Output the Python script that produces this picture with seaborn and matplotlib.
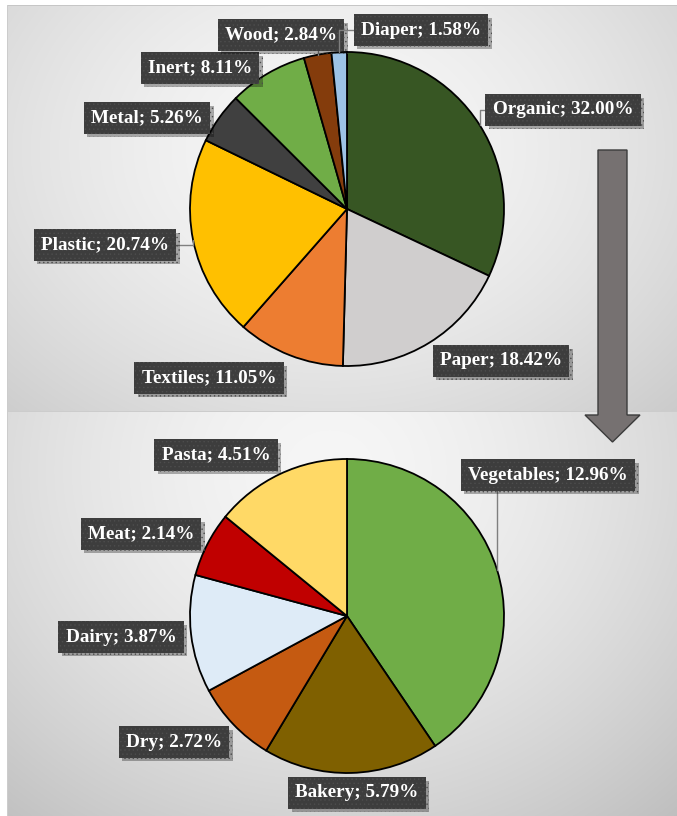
import numpy as np
import matplotlib
matplotlib.use("Agg")
import matplotlib.pyplot as plt
import matplotlib.patheffects as pe
from matplotlib.patches import Polygon
import seaborn as sns

# ---- data -------------------------------------------------------------
waste_categories = ["Organic", "Paper", "Textiles", "Plastic", "Metal", "Inert", "Wood", "Diaper"]
waste_shares = [32.00, 18.42, 11.05, 20.74, 5.26, 8.11, 2.84, 1.58]
waste_colors = ["#375623", "#D0CECE", "#ED7D31", "#FFC000", "#404040", "#70AD47", "#843C0C", "#9DC3E6"]

organic_categories = ["Vegetables", "Bakery", "Dry", "Dairy", "Meat", "Pasta"]
organic_shares = [12.96, 5.79, 2.72, 3.87, 2.14, 4.51]
organic_colors = ["#70AD47", "#7F6000", "#C55A11", "#DEEBF7", "#C00000", "#FFD966"]

# label centres in pie-radius units, and whether a leader line is drawn
waste_label_pos = [(1.376, 0.631), (0.981, -0.968), (-0.879, -1.076), (-1.541, -0.229),
                   (-1.274, 0.580), (-0.936, 0.898), (-0.420, 1.108), (0.471, 1.140)]
waste_leaders = [True, False, False, True, False, False, True, True]
organic_label_pos = [(1.280, 0.898), (0.064, -1.127), (-1.102, -0.803), (-1.439, -0.134),
                     (-1.312, 0.522), (-0.834, 1.025)]
organic_leaders = [True, False, False, False, False, False]

# ---- style ------------------------------------------------------------
sns.set_theme(style="white")
plt.rcParams["font.family"] = ["Liberation Serif", "DejaVu Serif"]
plt.rcParams["hatch.linewidth"] = 0.5

W, H = 677, 816
R = 157  # pie radius in pixels
fig = plt.figure(figsize=(W / 100, H / 100), dpi=100)

# ---- gradient panels ----------------------------------------------------
bg_ax = fig.add_axes([0, 0, 1, 1], zorder=0)
yy, xx = np.mgrid[0:H, 0:W] + 0.5
img = np.ones((H, W))


def shade(mask, cx, cy, sx, sy, light, dark):
    d = np.sqrt(((xx - cx) / sx) ** 2 + ((yy - cy) / sy) ** 2)
    v = light - (light - dark) * np.clip(d, 0, 1.3) ** 1.6
    img[mask] = v[mask]


top_mask = (xx >= 7) & (yy >= 5) & (yy < 412)
bot_mask = (xx >= 7) & (yy >= 412)
shade(top_mask, 330, 150, 480, 370, 0.97, 0.80)
shade(bot_mask, 330, 470, 470, 420, 0.965, 0.78)
img[(yy >= 411) & (yy < 412.5) & (xx >= 7)] = 0.80
img[(yy >= 5) & (yy < 6) & (xx >= 7)] = 0.78
img[(xx >= 7) & (xx < 8) & (yy >= 5)] = 0.80

bg_ax.imshow(np.dstack([img, img, img]), extent=(0, W, H, 0), interpolation="bilinear")
bg_ax.set_xlim(0, W)
bg_ax.set_ylim(H, 0)
bg_ax.axis("off")

# downward arrow linking the two pies
arrow_pts = [(598, 150), (627, 150), (627, 415), (640, 415), (612.5, 442),
             (585, 415), (598, 415)]
bg_ax.add_patch(Polygon(arrow_pts, closed=True, facecolor="#767171",
                        edgecolor="#3b3b3b", linewidth=1.0, zorder=3))


# ---- pies ---------------------------------------------------------------
def draw_pie(cx, cy, categories, shares, colors, label_pos, leaders, z):
    ax = fig.add_axes([0, 0, 1, 1], zorder=z)
    ax.set_facecolor("none")
    ax.pie(shares, colors=colors, startangle=90, counterclock=False, radius=1,
           wedgeprops=dict(edgecolor="black", linewidth=1.3))
    ax.set_xlim(-cx / R, (W - cx) / R)
    ax.set_ylim(-(H - cy) / R, cy / R)
    ax.set_aspect("equal", adjustable="datalim")
    ax.axis("off")

    total = sum(shares)
    cum = np.cumsum(shares)
    for name, v, c, (lx, ly), lead in zip(categories, shares, cum, label_pos, leaders):
        theta = np.deg2rad(360 * (c - v / 2) / total)
        edge = (np.sin(theta), np.cos(theta))
        arrowprops = None
        if lead:
            arrowprops = dict(arrowstyle="-", color="#7f7f7f", lw=1.0, shrinkA=0, shrinkB=0,
                              connectionstyle="angle,angleA=0,angleB=90,rad=0")
        t = ax.annotate(f"{name}; {v:.2f}%", xy=edge, xytext=(lx, ly),
                        ha="center", va="center", fontsize=13.8, fontweight="bold",
                        color="white", annotation_clip=False,
                        bbox=dict(boxstyle="square,pad=0.38", facecolor="#3d3d3d",
                                  edgecolor="#4d4d4d", linewidth=0, hatch="...."),
                        arrowprops=arrowprops)
        t.get_bbox_patch().set_path_effects([
            pe.SimplePatchShadow(offset=(2.5, -2.5), shadow_rgbFace="black", alpha=0.3),
            pe.Normal()])
    return ax


draw_pie(347, 209, waste_categories, waste_shares, waste_colors,
         waste_label_pos, waste_leaders, 1)
draw_pie(347, 616, organic_categories, organic_shares, organic_colors,
         organic_label_pos, organic_leaders, 2)

fig.savefig("out.png", dpi=100)
